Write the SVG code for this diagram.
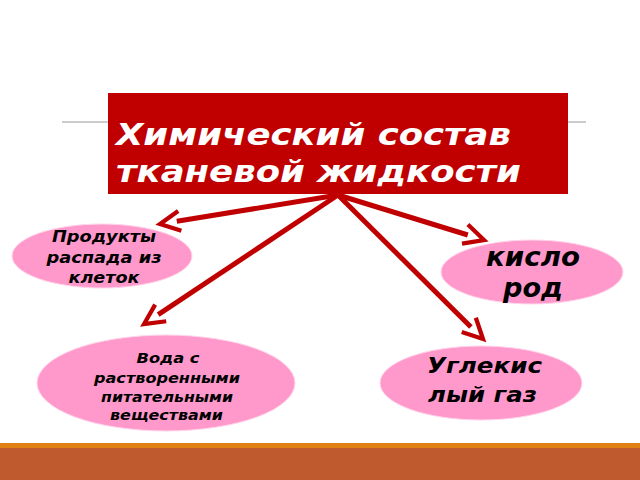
<svg xmlns="http://www.w3.org/2000/svg" width="640" height="480" viewBox="0 0 640 480">
<defs>
<style>
.t{font-family:"DejaVu Sans",Verdana,sans-serif;font-weight:bold;font-style:italic;}
.node{fill:#FF99CC;stroke:#FFD6EA;stroke-width:1;}
.lbl{fill:#000;text-anchor:middle;}
.conn{stroke:#C00000;stroke-width:5;fill:none;}
</style>
<marker id="ah" viewBox="0 0 10 10" refX="2.2" refY="5" markerWidth="5" markerHeight="5" orient="auto" markerUnits="strokeWidth" overflow="visible">
<path d="M1,1 L9,5 L1,9" fill="none" stroke="#C00000" stroke-width="1.7" stroke-linejoin="miter"/>
</marker>
</defs>
<rect width="640" height="480" fill="#fff"/>
<line x1="62" y1="122" x2="586" y2="122" stroke="#BBBBBB" stroke-width="1.5"/>
<g id="title">
<rect x="108" y="93" width="460" height="101" fill="#C00000"/>
<text class="t" x="116" y="145" font-size="30" fill="#fff" textLength="395" lengthAdjust="spacingAndGlyphs">Химический состав</text>
<text class="t" x="116" y="182" font-size="30" fill="#fff" textLength="405" lengthAdjust="spacingAndGlyphs">тканевой жидкости</text>
</g>
<g id="connectors">
<line class="conn" x1="338" y1="195" x2="176.8" y2="221.3" marker-end="url(#ah)"/>
<line class="conn" x1="338" y1="195" x2="158.2" y2="314.6" marker-end="url(#ah)"/>
<line class="conn" x1="338" y1="195" x2="467.8" y2="235" marker-end="url(#ah)"/>
<line class="conn" x1="338" y1="195" x2="470.9" y2="327" marker-end="url(#ah)"/>
</g>
<g id="n1">
<ellipse class="node" cx="102" cy="256" rx="90" ry="32"/>
<text class="t lbl" font-size="16"><tspan x="104" y="242" textLength="104" lengthAdjust="spacingAndGlyphs">Продукты</tspan><tspan x="104" y="263" textLength="115" lengthAdjust="spacingAndGlyphs">распада из</tspan><tspan x="104" y="283" textLength="71" lengthAdjust="spacingAndGlyphs">клеток</tspan></text>
</g>
<g id="n2">
<ellipse class="node" cx="532" cy="272" rx="91" ry="32"/>
<text class="t lbl" font-size="26"><tspan x="533" y="266" textLength="94" lengthAdjust="spacingAndGlyphs">кисло</tspan><tspan x="533" y="297" textLength="60" lengthAdjust="spacingAndGlyphs">род</tspan></text>
</g>
<g id="n3">
<ellipse class="node" cx="166" cy="383" rx="129" ry="48"/>
<text class="t lbl" font-size="14"><tspan x="168" y="363" textLength="63" lengthAdjust="spacingAndGlyphs">Вода с</tspan><tspan x="167" y="383" textLength="146" lengthAdjust="spacingAndGlyphs">растворенными</tspan><tspan x="167" y="402" textLength="132" lengthAdjust="spacingAndGlyphs">питательными</tspan><tspan x="166.5" y="420" textLength="113" lengthAdjust="spacingAndGlyphs">веществами</tspan></text>
</g>
<g id="n4">
<ellipse class="node" cx="481" cy="383" rx="101" ry="37"/>
<text class="t lbl" font-size="21"><tspan x="484.5" y="373" textLength="115" lengthAdjust="spacingAndGlyphs">Углекис</tspan><tspan x="482.5" y="402" textLength="109" lengthAdjust="spacingAndGlyphs">лый газ</tspan></text>
</g>
<rect x="0" y="443" width="640" height="6" fill="#E08010"/>
<rect x="0" y="448" width="640" height="32" fill="#BE5A2D"/>
</svg>
